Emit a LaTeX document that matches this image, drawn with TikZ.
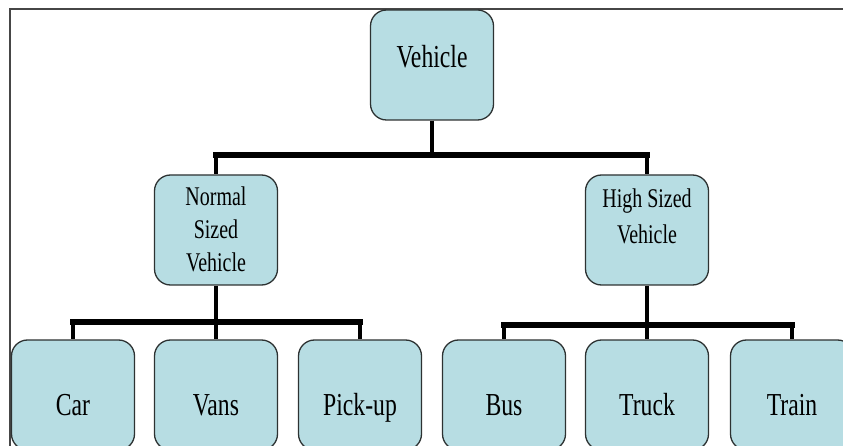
\documentclass[tikz,border=0pt]{standalone}
\usepackage{fontspec}
\usetikzlibrary{calc}
\newfontfamily\cond{Liberation Serif}[FakeStretch=0.74]
\definecolor{boxfill}{RGB}{183,221,227}
\definecolor{boxline}{RGB}{45,50,50}
\definecolor{framec}{RGB}{70,70,70}
\begin{document}
\begin{tikzpicture}[x=1pt,y=-1pt,
  box/.style={draw=boxline, line width=1.3pt, fill=boxfill, rounded corners=16pt,
    minimum width=123pt, minimum height=110pt, inner sep=0pt},
  big/.style={font=\cond\fontsize{32}{34}\selectfont, inner sep=0pt},
  mid/.style={font=\cond\fontsize{27}{33}\selectfont, inner sep=0pt, align=center},
  bar/.style={line width=6pt, line cap=rect},
  stem/.style={line width=4pt}]
\useasboundingbox (0,0) rectangle (843,446);
\clip (0,0) rectangle (843,446);
\fill[white] (0,0) rectangle (843,446);
% frame
\draw[framec, line width=2pt] (10,446) -- (10,9) -- (843,9);
% boxes
\node[box] (veh) at (432,65) {};
\node[box] (nsv) at (216,230) {};
\node[box] (hsv) at (647,230) {};
\node[box] (car) at (73,395) {};
\node[box] (vans) at (216,395) {};
\node[box] (pick) at (360,395) {};
\node[box] (bus) at (504,395) {};
\node[box] (truck) at (647,395) {};
\node[box] (train) at (792,395) {};
% labels
\node[big, anchor=base] (tveh) at (432,68) {Vehicle};
\node[mid] (tnsv) at (216,229) {Normal\\Sized\\Vehicle};
\node[mid, font=\cond\fontsize{27}{36}\selectfont] (thsv) at (647,216) {High Sized\\Vehicle};
\node[big, anchor=base] (tcar) at (73,415) {Car};
\node[big, anchor=base] (tvans) at (216,415) {Vans};
\node[big, anchor=base] (tpick) at (360,415) {Pick-up};
\node[big, anchor=base] (tbus) at (504,415) {Bus};
\node[big, anchor=base] (ttruck) at (647,415) {Truck};
\node[big, anchor=base] (ttrain) at (792,415) {Train};
% connectors
\coordinate (j1) at (432,155);
\coordinate (j2) at (216,322);
\coordinate (j3) at (647,325);
\draw[stem] (veh.south) -- (j1);
\draw[bar] (nsv.north |- j1) -- (hsv.north |- j1);
\draw[stem] (nsv.north |- j1) -- (nsv.north);
\draw[stem] (hsv.north |- j1) -- (hsv.north);
\draw[stem] (nsv.south) -- (j2);
\draw[bar] (car.north |- j2) -- (pick.north |- j2);
\draw[stem] (car.north |- j2) -- (car.north);
\draw[stem] (vans.north |- j2) -- (vans.north);
\draw[stem] (pick.north |- j2) -- (pick.north);
\draw[stem] (hsv.south) -- (j3);
\draw[bar] (bus.north |- j3) -- (train.north |- j3);
\draw[stem] (bus.north |- j3) -- (bus.north);
\draw[stem] (truck.north |- j3) -- (truck.north);
\draw[stem] (train.north |- j3) -- (train.north);
\end{tikzpicture}
\end{document}
